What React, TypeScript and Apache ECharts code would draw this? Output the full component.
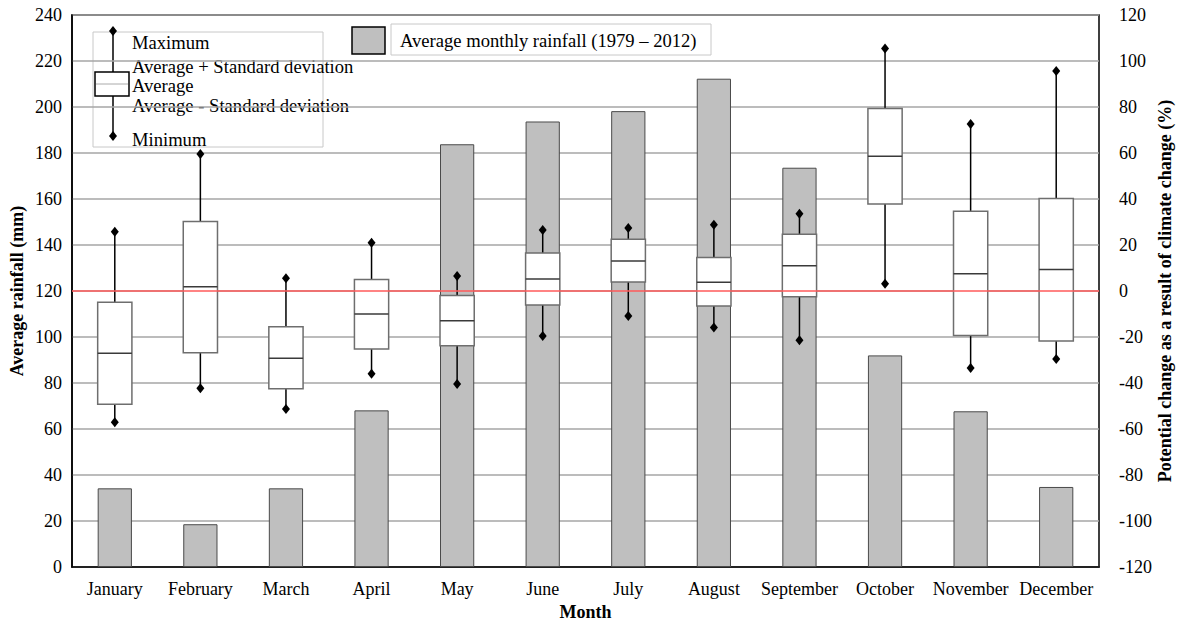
import React, { useEffect, useRef } from "react";
import * as echarts from "echarts";

const months = [
  "January", "February", "March", "April", "May", "June",
  "July", "August", "September", "October", "November", "December",
];

// Average monthly rainfall 1979 – 2012 (mm), left axis
const rainfall = [34.2, 18.6, 34.2, 68.1, 183.8, 193.7, 198.2, 212.3, 173.6, 92.0, 67.7, 34.8];

// Potential change as a result of climate change (%), right axis
const changeMax = [25.8, 59.6, 5.5, 21.0, 6.5, 26.5, 27.4, 28.8, 33.6, 105.4, 72.6, 95.6];
const changeUpper = [-4.9, 30.2, -15.5, 5.0, -2.0, 16.5, 22.5, 14.6, 24.7, 79.4, 34.7, 40.2];
const changeAvg = [-27.1, 1.8, -29.2, -10.0, -12.9, 5.2, 13.0, 3.8, 11.0, 58.6, 7.5, 9.4];
const changeLower = [-49.2, -26.8, -42.5, -25.2, -23.8, -6.1, 3.9, -6.5, -2.5, 37.8, -19.4, -21.7];
const changeMin = [-57.1, -42.3, -51.3, -36.0, -40.4, -19.6, -10.9, -15.9, -21.4, 3.1, -33.5, -29.6];

const leftTicks = { min: 0, max: 240, interval: 20 };
const rightTicks = { min: -120, max: 120, interval: 20 };

const legendLines = [
  { text: "Maximum", y: 42 },
  { text: "Average + Standard deviation", y: 66 },
  { text: "Average", y: 85 },
  { text: "Average - Standard deviation", y: 105 },
  { text: "Minimum", y: 139 },
];

const FONT = "Liberation Serif";

function diamond(x: number, y: number) {
  return [
    [x, y - 5],
    [x + 4, y],
    [x, y + 5],
    [x - 4, y],
  ];
}

export default function App() {
  const ref = useRef<HTMLDivElement>(null);

  useEffect(() => {
    document.body.style.margin = "0";
    if (!ref.current) return;
    const chart = echarts.init(ref.current, null, { renderer: "svg" });

    const boxData = months.map((_, i) => [
      i,
      changeMax[i],
      changeUpper[i],
      changeAvg[i],
      changeLower[i],
      changeMin[i],
    ]);

    const renderBox = (params: any, api: any) => {
      const i = api.value(0);
      const pMax = api.coord([i, api.value(1)]);
      const pUp = api.coord([i, api.value(2)]);
      const pAvg = api.coord([i, api.value(3)]);
      const pLow = api.coord([i, api.value(4)]);
      const pMin = api.coord([i, api.value(5)]);
      const w = api.size([1, 0])[0] * 0.4;
      const x = pMax[0];
      return {
        type: "group",
        children: [
          {
            type: "line",
            shape: { x1: x, y1: pMax[1], x2: x, y2: pUp[1] },
            style: { stroke: "#000", lineWidth: 1.5 },
          },
          {
            type: "line",
            shape: { x1: x, y1: pLow[1], x2: x, y2: pMin[1] },
            style: { stroke: "#000", lineWidth: 1.5 },
          },
          {
            type: "rect",
            shape: { x: x - w / 2, y: pUp[1], width: w, height: pLow[1] - pUp[1] },
            style: { fill: "#fff", stroke: "#6e6e6e", lineWidth: 1.5 },
          },
          {
            type: "line",
            shape: { x1: x - w / 2, y1: pAvg[1], x2: x + w / 2, y2: pAvg[1] },
            style: { stroke: "#3a3a3a", lineWidth: 1.5 },
          },
          {
            type: "polygon",
            shape: { points: diamond(x, pMax[1]) },
            style: { fill: "#000" },
          },
          {
            type: "polygon",
            shape: { points: diamond(x, pMin[1]) },
            style: { fill: "#000" },
          },
        ],
      };
    };

    const legendGraphics: any[] = [
      // box-plot key
      {
        type: "rect",
        shape: { x: 93, y: 32, width: 230, height: 115 },
        style: { fill: "#fff", stroke: "#c8c8c8", lineWidth: 1 },
      },
      {
        type: "line",
        shape: { x1: 113, y1: 31, x2: 113, y2: 136 },
        style: { stroke: "#000", lineWidth: 1.5 },
      },
      { type: "polygon", shape: { points: diamond(113, 31) }, style: { fill: "#000" } },
      { type: "polygon", shape: { points: diamond(113, 136) }, style: { fill: "#000" } },
      {
        type: "rect",
        shape: { x: 95, y: 72, width: 34, height: 24 },
        style: { fill: "#fff", stroke: "#000", lineWidth: 1.5 },
      },
      {
        type: "line",
        shape: { x1: 96, y1: 84, x2: 128, y2: 84 },
        style: { stroke: "#aaa", lineWidth: 1 },
      },
      ...legendLines.map((l) => ({
        type: "text",
        x: 132,
        y: l.y,
        style: {
          text: l.text,
          fill: "#000",
          font: `18.6px "${FONT}"`,
          verticalAlign: "middle",
          align: "left",
        },
      })),
      // rainfall key
      {
        type: "rect",
        shape: { x: 352, y: 27, width: 33, height: 27 },
        style: { fill: "#bfbfbf", stroke: "#000", lineWidth: 1.5 },
      },
      {
        type: "rect",
        shape: { x: 391, y: 24, width: 320, height: 31 },
        style: { fill: "#fff", stroke: "#c8c8c8", lineWidth: 1 },
      },
      {
        type: "text",
        x: 400,
        y: 40,
        style: {
          text: "Average monthly rainfall (1979 – 2012)",
          fill: "#000",
          font: `18.6px "${FONT}"`,
          verticalAlign: "middle",
          align: "left",
        },
      },
    ];

    const axisLabel = { color: "#000", fontFamily: FONT, fontSize: 18 };
    const axisName = { color: "#000", fontFamily: FONT, fontSize: 18, fontWeight: "bold" as const };

    chart.setOption({
      animation: false,
      backgroundColor: "#fff",
      grid: {
        left: 72,
        right: 81,
        top: 15,
        bottom: 59,
        outerBoundsMode: "none",
        containLabel: false,
        show: true,
        borderColor: "#000",
        borderWidth: 1.5,
      },
      xAxis: {
        type: "category",
        data: months,
        boundaryGap: true,
        axisLine: { lineStyle: { color: "#000", width: 1.5 } },
        axisTick: { show: false },
        axisLabel: { ...axisLabel, margin: 13, interval: 0, hideOverlap: false },
        name: "Month",
        nameLocation: "middle",
        nameGap: 36,
        nameTextStyle: axisName,
      },
      yAxis: [
        {
          type: "value",
          ...leftTicks,
          axisLine: { show: true, lineStyle: { color: "#000", width: 1.5 } },
          axisTick: { show: false },
          axisLabel: { ...axisLabel, margin: 10 },
          splitLine: { show: true, lineStyle: { color: "#a6a6a6", width: 1.5 } },
          name: "Average rainfall (mm)",
          nameLocation: "middle",
          nameGap: 46,
          nameMoveOverlap: false,
          nameTextStyle: axisName,
        },
        {
          type: "value",
          ...rightTicks,
          position: "right",
          axisLine: { show: false },
          axisTick: { show: false },
          axisLabel: { ...axisLabel, margin: 20, align: "left" },
          splitLine: { show: false },
          name: "Potential change as a result of climate change (%)",
          nameLocation: "middle",
          nameGap: 57,
          nameMoveOverlap: false,
          nameRotate: 90,
          nameTextStyle: axisName,
        },
      ],
      series: [
        {
          name: "Average monthly rainfall (1979 – 2012)",
          type: "bar",
          yAxisIndex: 0,
          data: rainfall,
          barWidth: "40%",
          itemStyle: { color: "#bfbfbf", borderColor: "#4a4a4a", borderWidth: 1 },
          z: 2,
        },
        {
          name: "Potential change",
          type: "custom",
          yAxisIndex: 1,
          data: boxData,
          encode: { x: 0, y: [1, 2, 3, 4, 5] },
          renderItem: renderBox,
          z: 3,
        },
        {
          name: "Zero change",
          type: "line",
          yAxisIndex: 1,
          data: [],
          z: 5,
          markLine: {
            silent: true,
            symbol: "none",
            label: { show: false },
            lineStyle: { color: "#ff5a5a", width: 1.5, type: "solid" },
            data: [{ yAxis: 0 }],
          },
        },
      ],
      graphic: legendGraphics,
    });

    return () => chart.dispose();
  }, []);

  return <div ref={ref} style={{ width: 1180, height: 626 }} />;
}
